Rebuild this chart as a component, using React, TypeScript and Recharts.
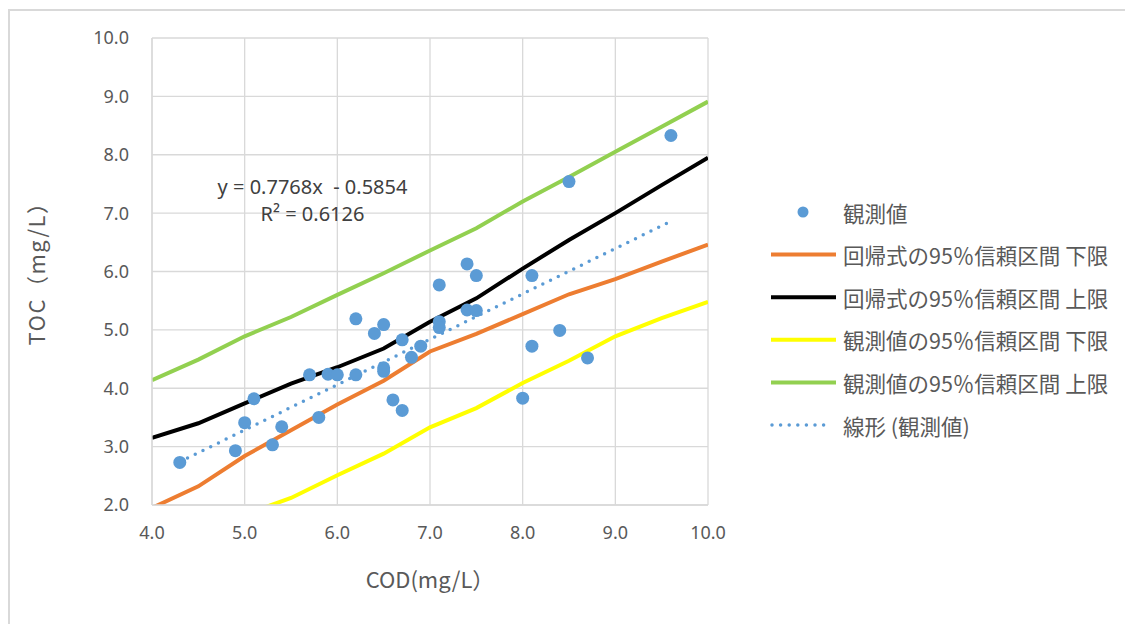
import React from 'react';
import { ComposedChart, Line, Scatter, XAxis, YAxis, CartesianGrid } from 'recharts';

// observed values (COD, TOC)
const codObs = [4.3, 4.9, 5.0, 5.1, 5.3, 5.4, 5.7, 5.8, 5.9, 6.0, 6.2, 6.2, 6.4, 6.5, 6.5, 6.5, 6.6, 6.7, 6.7, 6.8, 6.9, 7.1, 7.1, 7.1, 7.4, 7.4, 7.5, 7.5, 8.0, 8.1, 8.1, 8.4, 8.5, 8.7, 9.6];
const tocObs = [2.73, 2.93, 3.41, 3.82, 3.03, 3.34, 4.23, 3.50, 4.24, 4.23, 5.19, 4.23, 4.94, 5.09, 4.35, 4.29, 3.80, 3.62, 4.83, 4.53, 4.72, 5.77, 5.14, 5.04, 6.13, 5.34, 5.93, 5.33, 3.83, 5.93, 4.72, 4.99, 7.54, 4.52, 8.33];

// confidence band lines read at 0.5 steps
const bandX = [4.0, 4.5, 5.0, 5.5, 6.0, 6.5, 7.0, 7.5, 8.0, 8.5, 9.0, 9.5, 10.0];
const regLower = [1.95, 2.32, 2.84, 3.28, 3.72, 4.13, 4.63, 4.93, 5.27, 5.61, 5.87, 6.17, 6.46];
const regUpper = [3.15, 3.40, 3.74, 4.08, 4.36, 4.68, 5.14, 5.54, 6.05, 6.54, 7.00, 7.48, 7.95];
const obsUpper = [4.14, 4.49, 4.89, 5.22, 5.60, 5.97, 6.36, 6.74, 7.20, 7.62, 8.05, 8.48, 8.91];
const obsLowerX = [5.2, 5.5, 6.0, 6.5, 7.0, 7.5, 8.0, 8.5, 9.0, 9.5, 10.0];
const obsLower = [1.95, 2.12, 2.51, 2.88, 3.33, 3.66, 4.09, 4.47, 4.89, 5.20, 5.48];

const trendX = [4.3, 9.6];
const trendY = [2.74, 6.86];

const xTicks = [4, 5, 6, 7, 8, 9, 10];
const yTicks = [2, 3, 4, 5, 6, 7, 8, 9, 10];

const legendItems = [
  { name: '観測値', color: '#5b9bd5', kind: 'dot' },
  { name: '回帰式の95％信頼区間 下限', color: '#ed7d31', kind: 'line' },
  { name: '回帰式の95％信頼区間 上限', color: '#000000', kind: 'line' },
  { name: '観測値の95％信頼区間 下限', color: '#ffff00', kind: 'line' },
  { name: '観測値の95％信頼区間 上限', color: '#92d050', kind: 'line' },
  { name: '線形 (観測値)', color: '#5b9bd5', kind: 'dots' },
];

const zip = (xs: number[], ys: number[]) => xs.map((x, i) => ({ x, y: ys[i] }));

const obsData = zip(codObs, tocObs);
const regLowerData = zip(bandX, regLower);
const regUpperData = zip(bandX, regUpper);
const obsUpperData = zip(bandX, obsUpper);
const obsLowerData = zip(obsLowerX, obsLower);
const trendData = zip(trendX, trendY);

const GRAY = '#595959';
const FONT = '"Noto Sans", "Noto Sans CJK JP", sans-serif';
const JP = '"Noto Sans CJK JP", sans-serif';

export default function App() {
  return (
    <div style={{ position: 'relative', width: 1125, height: 616 }}>
      <div style={{ position: 'absolute', left: 0, top: 1, width: 1123, height: 700, borderTop: '2px solid #d9d9d9', borderLeft: '2px solid #d9d9d9' }} />
      <ComposedChart
        width={1125}
        height={616}
        margin={{ top: 30, right: 425, bottom: 89, left: 84 }}
        style={{ position: 'absolute', left: 0, top: 0 }}
      >
        <CartesianGrid stroke="#d9d9d9" strokeWidth={1.3} />
        <XAxis
          type="number"
          dataKey="x"
          domain={[4, 10]}
          ticks={xTicks}
          allowDataOverflow
          tickFormatter={(v: number) => v.toFixed(1)}
          tickLine={false}
          tickSize={0}
          tickMargin={21}
          height={30}
          axisLine={{ stroke: '#d9d9d9', strokeWidth: 1.3 }}
          tick={{ fill: GRAY, fontSize: 18, fontFamily: FONT }}
        />
        <YAxis
          type="number"
          dataKey="y"
          domain={[2, 10]}
          ticks={yTicks}
          allowDataOverflow
          tickFormatter={(v: number) => v.toFixed(1)}
          tickLine={false}
          tickSize={0}
          tickMargin={23}
          width={60}
          axisLine={{ stroke: '#d9d9d9', strokeWidth: 1.3 }}
          tick={{ fill: GRAY, fontSize: 18, fontFamily: FONT }}
        />
        <Line data={obsUpperData} dataKey="y" type="linear" stroke="#92d050" strokeWidth={4} dot={false} isAnimationActive={false} />
        <Line data={obsLowerData} dataKey="y" type="linear" stroke="#ffff00" strokeWidth={4} dot={false} isAnimationActive={false} />
        <Line data={regUpperData} dataKey="y" type="linear" stroke="#000000" strokeWidth={4} dot={false} isAnimationActive={false} />
        <Line data={regLowerData} dataKey="y" type="linear" stroke="#ed7d31" strokeWidth={4} dot={false} isAnimationActive={false} />
        <Line data={trendData} dataKey="y" type="linear" stroke="#5b9bd5" strokeWidth={3.5} strokeDasharray="0 8.6" strokeLinecap="round" dot={false} isAnimationActive={false} />
        <Scatter data={obsData} dataKey="y" fill="#5b9bd5" shape={(p: any) => <circle cx={p.cx} cy={p.cy} r={6.5} fill="#5b9bd5" />} isAnimationActive={false} />
      </ComposedChart>
      <svg width={1125} height={616} style={{ position: 'absolute', left: 0, top: 0, pointerEvents: 'none' }}>
        <text x={27} y={260} transform="rotate(-90 27 260)" textAnchor="middle" dominantBaseline="central" fill={GRAY} fontSize={22} letterSpacing={1.5} fontFamily={JP}>TOC（mg/L）</text>
        <text x={422} y={570} textAnchor="middle" dominantBaseline="central" fill={GRAY} fontSize={22} fontFamily={JP}>COD(mg/L）</text>
        <text x={304.5} y={178} textAnchor="middle" dominantBaseline="central" fill="#404040" fontSize={20} fontFamily={FONT} style={{ whiteSpace: 'pre' }}>y = 0.7768x  - 0.5854</text>
        <text x={304.5} y={205} textAnchor="middle" dominantBaseline="central" fill="#404040" fontSize={20} fontFamily={FONT}>R² = 0.6126</text>
        {legendItems.map((it, i) => {
          const y = 204 + i * 42.6;
          return (
            <g key={it.name}>
              {it.kind === 'dot' && <circle cx={795} cy={y} r={5.5} fill={it.color} />}
              {it.kind === 'line' && <line x1={763} x2={828} y1={y} y2={y} stroke={it.color} strokeWidth={4} />}
              {it.kind === 'dots' && <line x1={764} x2={824} y1={y} y2={y} stroke={it.color} strokeWidth={3.5} strokeDasharray="0 8.6" strokeLinecap="round" />}
              <text x={835} y={y} dominantBaseline="central" fill={GRAY} fontSize={21.5} fontFamily={JP}>{it.name}</text>
            </g>
          );
        })}
      </svg>
    </div>
  );
}
